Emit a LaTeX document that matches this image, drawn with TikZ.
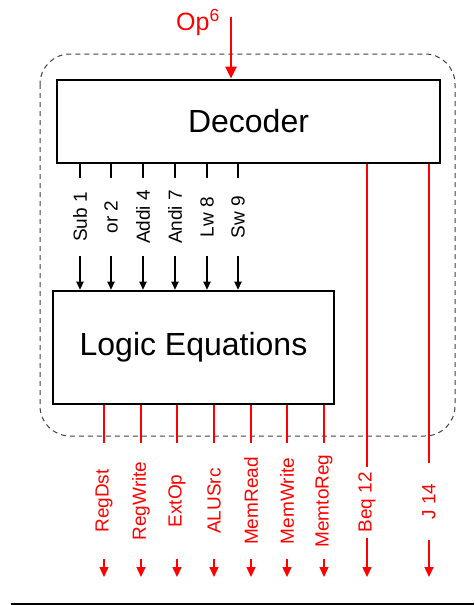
\documentclass[tikz,border=0pt]{standalone}
\usepackage{fontspec}
\setmainfont{Liberation Sans}
\usetikzlibrary{arrows.meta,positioning}

\begin{document}
\begin{tikzpicture}[x=1pt,y=-1pt,
    blk/.style={draw, line width=2.8pt, fill=white, inner sep=0pt},
    sig/.style={rotate=90, inner sep=0pt, font=\fontsize{19}{21}\selectfont},
    wire/.style={line width=1.2pt},
    ctl/.style={draw=red, line width=1.3pt},
    barr/.style={wire, -{Triangle[length=8pt,width=7.5pt]}},
    rarr/.style={ctl, fill=red, -{Triangle[length=10pt,width=9pt]}}]
\useasboundingbox (0,0) rectangle (474,605);

% control unit frame
\draw[black!75, line width=1pt, dash pattern=on 5pt off 4pt, rounded corners=30pt]
    (40,54) rectangle (455,436);

\node[blk, minimum width=383pt, minimum height=83pt,
      font=\fontsize{32}{36}\selectfont] (dec) at (248.5,121.5) {Decoder};
\node[blk, minimum width=281pt, minimum height=113pt,
      font=\fontsize{32}{36}\selectfont] (logic) at (193.5,347.5) {Logic Equations};

% opcode input
\coordinate (op) at (231,17);
\node[red, inner sep=0pt, font=\fontsize{25}{28}\selectfont] (opl) at (198,22) {Op\textsuperscript{6}};
\draw[red, line width=2.6pt, -{Triangle[length=12pt,width=11pt]}] (op) -- (dec.north -| op);

% decoded instructions
\foreach \x/\t/\n in {80/Sub 1/isub, 111/or 2/ior, 143/Addi 4/iaddi,
                      175/Andi 7/iandi, 207/Lw 8/ilw, 238/Sw 9/isw} {
  \node[sig, minimum width=78pt] (\n) at (\x,217) {\t};
  \draw[wire] (dec.south -| \n) -- (\n.east);
  \draw[barr] (\n.west) -- (logic.north -| \n);
}

% control signals
\coordinate (bot) at (0,577);
\foreach \x/\t/\n in {104/RegDst/regdst, 141/RegWrite/regwr, 177/ExtOp/extop,
                      214/ALUSrc/alusrc, 251/MemRead/memrd, 287/MemWrite/memwr,
                      324/MemtoReg/memtoreg} {
  \node[sig, red, minimum width=116pt] (\n) at (\x,501) {\t};
  \draw[ctl] (logic.south -| \n) -- (\n.east);
  \draw[rarr] (\n.west) -- (\n.west |- bot);
}

% branch and jump straight from the decoder
\node[sig, red, minimum width=71pt] (beq) at (367,502.5) {Beq 12};
\node[sig, red, minimum width=77pt] (jmp) at (429,501.5) {J 14};
\draw[ctl] (dec.south -| beq) -- (beq.east);
\draw[rarr] (beq.west) -- (beq.west |- bot);
\draw[ctl] (dec.south -| jmp) -- (jmp.east);
\draw[rarr] (jmp.west) -- (jmp.west |- bot);

\draw[line width=1.5pt] (11,604) -- (474,604);
\end{tikzpicture}
\end{document}
